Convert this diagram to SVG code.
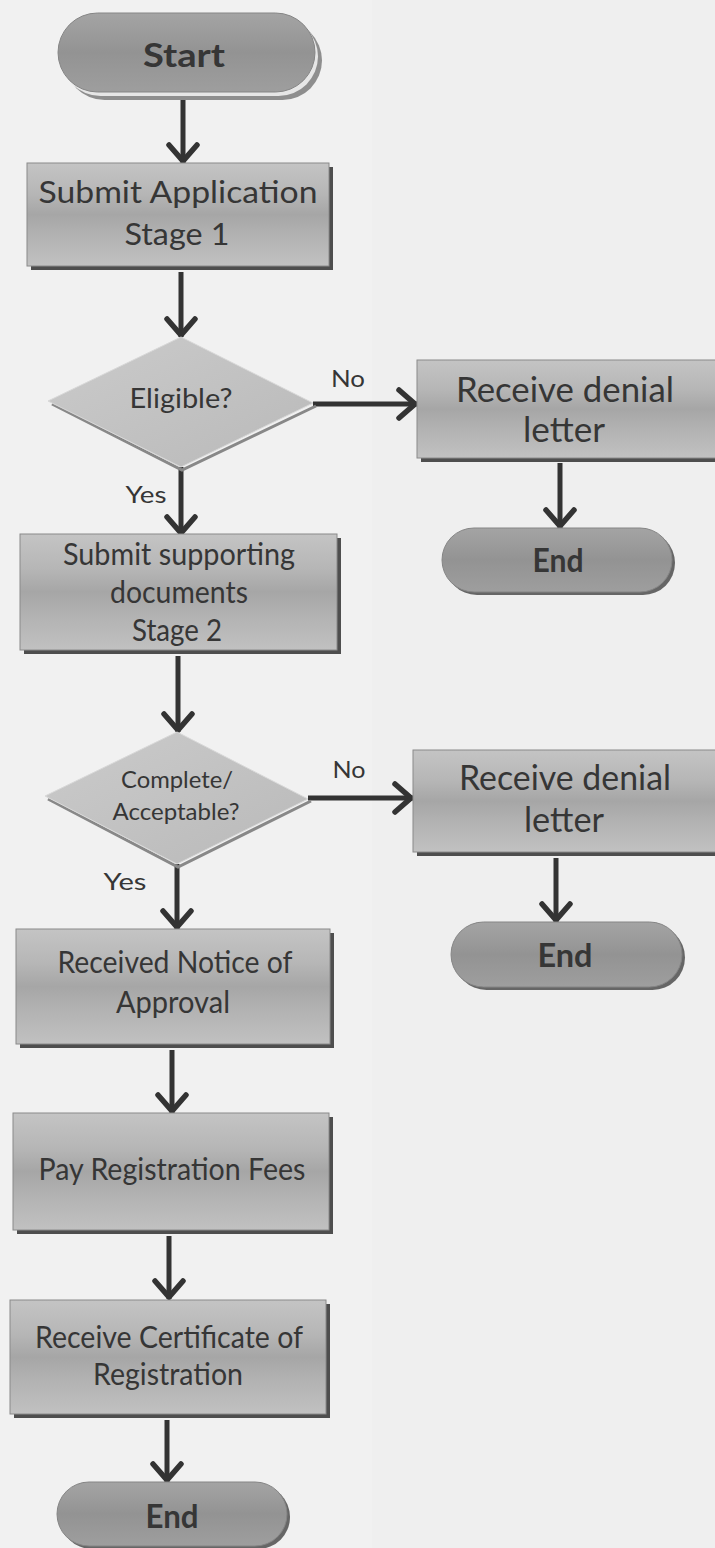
<svg xmlns="http://www.w3.org/2000/svg" width="715" height="1548" viewBox="0 0 715 1548">
<defs>
<linearGradient id="gBox" x1="0" y1="0" x2="0" y2="1">
<stop offset="0" stop-color="#c4c4c4"/>
<stop offset="0.3" stop-color="#b6b6b6"/>
<stop offset="0.5" stop-color="#a6a6a6"/>
<stop offset="0.7" stop-color="#b2b2b2"/>
<stop offset="1" stop-color="#c1c1c1"/>
</linearGradient>
<linearGradient id="gPill" x1="0" y1="0" x2="0" y2="1">
<stop offset="0" stop-color="#a4a4a4"/>
<stop offset="0.5" stop-color="#939393"/>
<stop offset="1" stop-color="#9e9e9e"/>
</linearGradient>
<linearGradient id="gDia" x1="0" y1="0" x2="1" y2="1">
<stop offset="0" stop-color="#cbcbcb"/>
<stop offset="1" stop-color="#b9b9b9"/>
</linearGradient>
<marker id="arr" markerUnits="userSpaceOnUse" markerWidth="40" markerHeight="40" viewBox="0 0 40 40" refX="24" refY="20" orient="auto">
<path d="M6 6 L22 20 L6 34" fill="none" stroke="#333" stroke-width="5.5" stroke-linecap="round" stroke-linejoin="miter"/>
</marker>
</defs>
<style>
text{font-family:Lato,"Liberation Sans",sans-serif;fill:#363636;text-anchor:middle}
.bx{fill:url(#gBox);stroke:#8a8a8a;stroke-width:1}
.sh{fill:#4e4e4e}
.pill{fill:url(#gPill);stroke:#858585;stroke-width:1}
.psh{fill:#666}
.dia{fill:url(#gDia);stroke:#d8d8d8;stroke-width:1}
.dsh{fill:none;stroke:#888;stroke-width:3}
.t{font-size:30px}
.tb{font-size:33px;font-weight:bold}
.lbl{font-size:24px}
.c{stroke:#333;stroke-width:5;fill:none;marker-end:url(#arr)}
</style>
<rect width="715" height="1548" fill="#f1f1f1"/>
<rect x="372" y="0" width="343" height="1548" fill="#efefef"/>

<g id="connectors">
<path class="c" d="M183 100 V163"/>
<path class="c" d="M181 272 V337"/>
<path class="c" d="M313 404 H417"/>
<path class="c" d="M560 463 V528"/>
<path class="c" d="M181 467 V535"/>
<path class="c" d="M178 656 V732"/>
<path class="c" d="M308 798 H413"/>
<path class="c" d="M556 858 V922"/>
<path class="c" d="M177 864 V929"/>
<path class="c" d="M172 1050 V1113"/>
<path class="c" d="M169 1236 V1299"/>
<path class="c" d="M167 1420 V1482"/>
<text class="lbl" x="348" y="387" textLength="34" lengthAdjust="spacingAndGlyphs">No</text>
<text class="lbl" x="146" y="503" textLength="41" lengthAdjust="spacingAndGlyphs">Yes</text>
<text class="lbl" x="349" y="778" textLength="33" lengthAdjust="spacingAndGlyphs">No</text>
<text class="lbl" x="125" y="890" textLength="43" lengthAdjust="spacingAndGlyphs">Yes</text>
</g>

<g id="start">
<rect x="65" y="21" width="257" height="79" rx="39.5" fill="#8e8e8e"/>
<rect x="61" y="17" width="257" height="79" rx="39.5" fill="#e6e6e6"/>
<rect x="58" y="13" width="257" height="79" rx="39.5" class="pill"/>
<text class="tb" x="184" y="67" font-size="35" textLength="82" lengthAdjust="spacingAndGlyphs">Start</text>
</g>

<g id="submit-application">
<rect class="sh" x="31" y="167" width="302" height="103"/>
<rect class="bx" x="27" y="163" width="302" height="103"/>
<text class="t" x="178" y="203" font-size="32" textLength="279" lengthAdjust="spacingAndGlyphs">Submit Application</text>
<text class="t" x="177" y="245" font-size="32" textLength="105" lengthAdjust="spacingAndGlyphs">Stage 1</text>
</g>

<g id="eligible">
<path class="dsh" d="M316 406 L182 470 L52 404"/>
<polygon class="dia" points="181,337 313,403 181,467 48,401"/>
<text x="181" y="408" font-size="26" textLength="103" lengthAdjust="spacingAndGlyphs">Eligible?</text>
</g>

<g id="denial-1">
<rect class="sh" x="421" y="364" width="300" height="98"/>
<rect class="bx" x="417" y="360" width="300" height="98"/>
<text x="565" y="402" font-size="35" textLength="218" lengthAdjust="spacingAndGlyphs">Receive denial</text>
<text x="564" y="442" font-size="35" textLength="82" lengthAdjust="spacingAndGlyphs">letter</text>
</g>

<g id="end-1">
<rect class="psh" x="445" y="531" width="230" height="64" rx="32"/>
<rect class="pill" x="442" y="528" width="230" height="64" rx="32"/>
<text class="tb" x="558" y="572" textLength="51" lengthAdjust="spacingAndGlyphs">End</text>
</g>

<g id="submit-supporting">
<rect class="sh" x="24" y="538" width="317" height="116"/>
<rect class="bx" x="20" y="534" width="317" height="116"/>
<text class="t" x="179" y="565" font-size="29" textLength="232" lengthAdjust="spacingAndGlyphs">Submit supporting</text>
<text class="t" x="179" y="603" font-size="29" textLength="138" lengthAdjust="spacingAndGlyphs">documents</text>
<text class="t" x="177" y="641" font-size="29" textLength="90" lengthAdjust="spacingAndGlyphs">Stage 2</text>
</g>

<g id="complete">
<path class="dsh" d="M311 801 L178 867 L48 799"/>
<polygon class="dia" points="177,732 308,799 177,864 45,796"/>
<text x="177" y="788" font-size="23" textLength="112" lengthAdjust="spacingAndGlyphs">Complete/</text>
<text x="176" y="820" font-size="23" textLength="127" lengthAdjust="spacingAndGlyphs">Acceptable?</text>
</g>

<g id="denial-2">
<rect class="sh" x="417" y="754" width="304" height="102"/>
<rect class="bx" x="413" y="750" width="304" height="102"/>
<text x="565" y="790" font-size="35" textLength="212" lengthAdjust="spacingAndGlyphs">Receive denial</text>
<text x="564" y="832" font-size="35" textLength="80" lengthAdjust="spacingAndGlyphs">letter</text>
</g>

<g id="end-2">
<rect class="psh" x="454" y="925" width="231" height="65" rx="32.5"/>
<rect class="pill" x="451" y="922" width="231" height="65" rx="32.5"/>
<text class="tb" x="565" y="967" textLength="55" lengthAdjust="spacingAndGlyphs">End</text>
</g>

<g id="received-notice">
<rect class="sh" x="20" y="933" width="314" height="115"/>
<rect class="bx" x="16" y="929" width="314" height="115"/>
<text class="t" x="175" y="973" font-size="29" textLength="235" lengthAdjust="spacingAndGlyphs">Received Notice of</text>
<text class="t" x="173" y="1013" font-size="29" textLength="114" lengthAdjust="spacingAndGlyphs">Approval</text>
</g>

<g id="pay-fees">
<rect class="sh" x="17" y="1117" width="316" height="117"/>
<rect class="bx" x="13" y="1113" width="316" height="117"/>
<text class="t" x="172" y="1180" font-size="29" textLength="267" lengthAdjust="spacingAndGlyphs">Pay Registration Fees</text>
</g>

<g id="receive-certificate">
<rect class="sh" x="14" y="1304" width="316" height="114"/>
<rect class="bx" x="10" y="1300" width="316" height="114"/>
<text class="t" x="169" y="1348" font-size="29" textLength="268" lengthAdjust="spacingAndGlyphs">Receive Certificate of</text>
<text class="t" x="168" y="1385" font-size="29" textLength="150" lengthAdjust="spacingAndGlyphs">Registration</text>
</g>

<g id="end-3">
<rect class="psh" x="60" y="1485" width="230" height="64" rx="32"/>
<rect class="pill" x="57" y="1482" width="230" height="64" rx="32"/>
<text class="tb" x="172" y="1528" textLength="53" lengthAdjust="spacingAndGlyphs">End</text>
</g>
</svg>
